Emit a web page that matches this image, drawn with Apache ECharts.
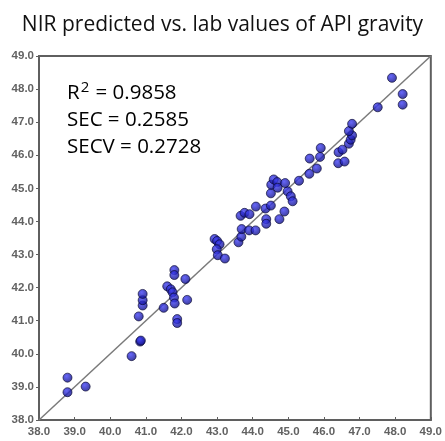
<!DOCTYPE html>
<html>
<head>
<meta charset="utf-8">
<script src="https://cdn.jsdelivr.net/npm/echarts@6/dist/echarts.min.js"></script>
<style>
html,body{margin:0;padding:0;background:#fff;}
#c{width:445px;height:441px;}
</style>
</head>
<body>
<div id="c"></div>
<script>
const titleText = 'NIR predicted vs. lab values of API gravity';
const statLines = ['0.9858', '0.2585', '0.2728'];
const axisMin = 38, axisMax = 49;
const labValues = [
  38.80, 38.80, 39.31, 40.60, 40.84, 40.86, 40.80, 40.91, 40.91, 40.91,
  41.50, 41.60, 41.70, 41.75, 41.79, 41.81, 41.80, 41.80, 41.88, 41.88, 42.11, 42.16,
  42.93, 43.00, 43.07, 42.99, 43.02, 43.22,
  43.60, 43.68, 43.69, 43.90, 44.08, 43.66, 43.77, 43.91, 44.09, 44.36, 44.51, 44.38, 44.38, 44.75, 44.89,
  44.51, 44.52, 44.59, 44.69, 44.70, 44.98, 45.07, 45.12, 44.91, 45.30, 45.59, 45.80,
  45.60, 45.89, 45.91, 46.40, 46.58, 46.41, 46.52, 46.70, 46.75, 46.79, 46.70, 46.79,
  47.51, 47.91, 48.21, 48.21
];
const nirPredicted = [
  39.28, 38.84, 39.01, 39.93, 40.37, 40.40, 41.13, 41.46, 41.62, 41.81,
  41.39, 42.04, 41.95, 41.86, 41.70, 41.52, 42.53, 42.38, 41.05, 40.93, 42.26, 41.63,
  43.47, 43.41, 43.31, 43.16, 42.98, 42.88,
  43.37, 43.54, 43.77, 43.73, 43.73, 44.17, 44.26, 44.22, 44.45, 44.39, 44.48, 44.07, 43.93, 44.07, 44.30,
  44.85, 45.11, 45.27, 45.19, 45.02, 44.91, 44.76, 44.61, 45.16, 45.23, 45.44, 45.60,
  45.90, 45.95, 46.22, 45.76, 45.81, 46.09, 46.17, 46.35, 46.47, 46.60, 46.73, 46.95,
  47.45, 48.34, 47.85, 47.53
];
const points = labValues.map((v, i) => [v, nirPredicted[i]]);

const chart = echarts.init(document.getElementById('c'));
const axisLabelStyle = {color: '#626262', fontSize: 11.5, fontWeight: 'bold', fontFamily: 'Liberation Sans', formatter: v => v.toFixed(1)};
chart.setOption({
  animation: false,
  backgroundColor: '#fff',
  title: {
    text: titleText, left: 'center', top: 10,
    textStyle: {fontFamily: 'Open Sans', fontSize: 21, fontWeight: 'normal', color: '#111'}
  },
  grid: {left: 39, right: 11, top: 56, bottom: 21, show: true, borderColor: '#5f5f5f', borderWidth: 2},
  xAxis: {
    type: 'value', min: axisMin, max: axisMax, interval: 1,
    axisLine: {show: true, lineStyle: {color: '#5f5f5f', width: 2}},
    axisTick: {show: true, inside: true, length: 3, lineStyle: {color: '#5f5f5f'}},
    splitLine: {show: false},
    axisLabel: Object.assign({margin: 6}, axisLabelStyle)
  },
  yAxis: {
    type: 'value', min: axisMin, max: axisMax, interval: 1,
    axisLine: {show: true, lineStyle: {color: '#5f5f5f', width: 2}},
    axisTick: {show: true, inside: false, length: 3, lineStyle: {color: '#5f5f5f'}},
    splitLine: {show: false},
    axisLabel: Object.assign({margin: 5}, axisLabelStyle)
  },
  graphic: [{
    type: 'text', left: 67, top: 80,
    style: {
      text: '{a|R}{s|2}{a| = ' + statLines[0] + '}\n{a|SEC = ' + statLines[1] + '}\n{a|SECV = ' + statLines[2] + '}',
      rich: {
        a: {fontFamily: 'Open Sans', fontSize: 20.5, color: '#111', lineHeight: 27},
        s: {fontFamily: 'Open Sans', fontSize: 15, color: '#111', verticalAlign: 'top', lineHeight: 27, padding: [0, 1, 11, 1]}
      }
    }
  }],
  series: [{
    type: 'line',
    data: [[axisMin, axisMin], [axisMax, axisMax]],
    symbol: 'none',
    lineStyle: {color: '#7a7a7a', width: 1.5},
    z: 1
  }, {
    type: 'scatter',
    data: points,
    symbolSize: 9,
    itemStyle: {
      color: {type: 'radial', x: 0.4, y: 0.35, r: 0.7, colorStops: [{offset: 0, color: '#4040f8'}, {offset: 1, color: '#0a0a7c'}]},
      borderColor: '#05052a', borderWidth: 0.8
    },
    z: 3
  }]
});
</script>
</body>
</html>
